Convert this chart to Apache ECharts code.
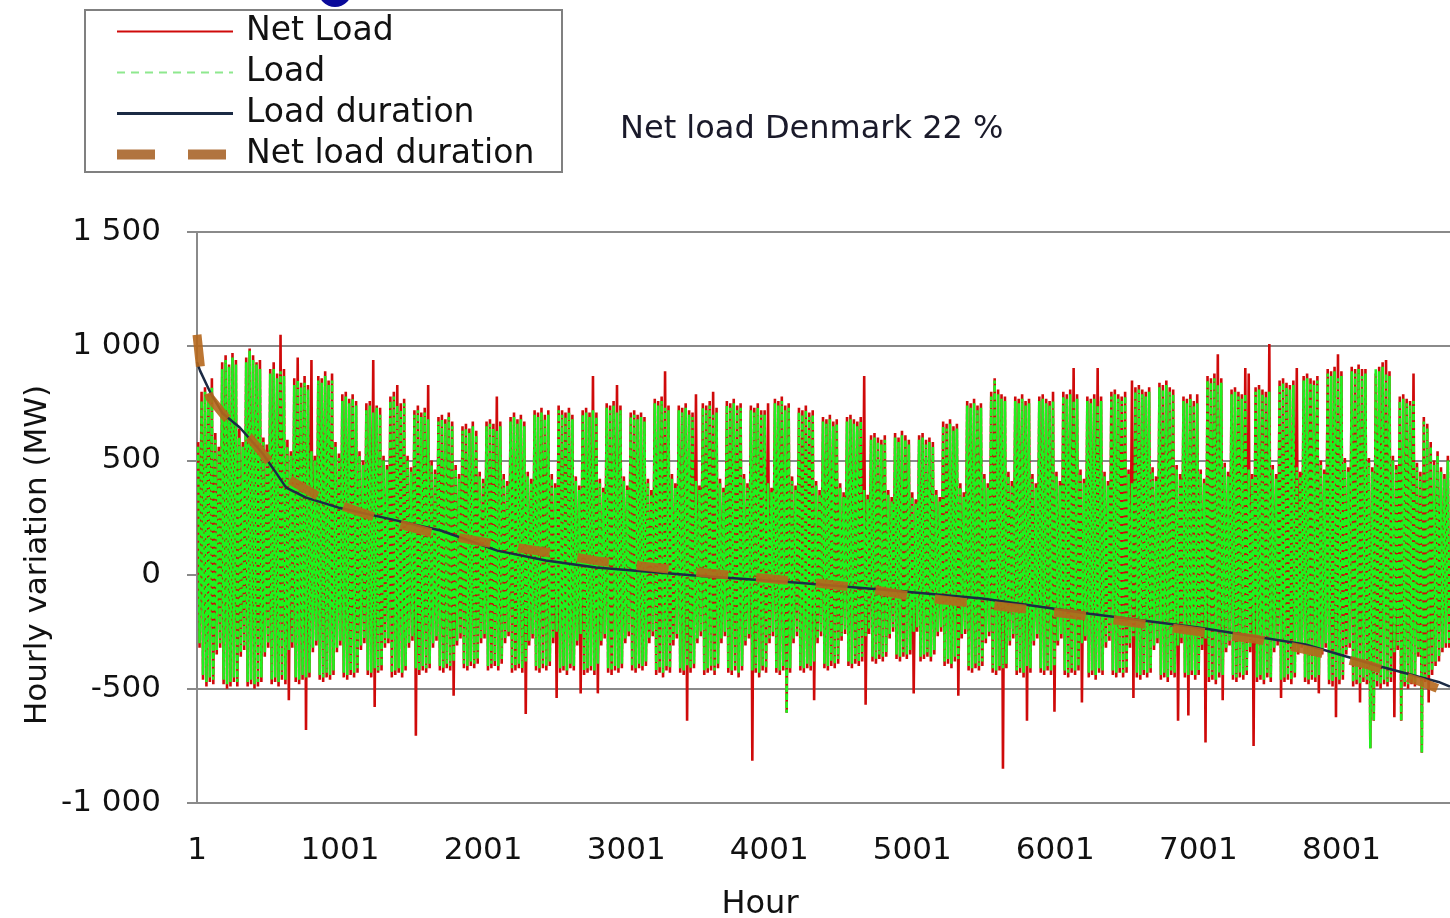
<!DOCTYPE html>
<html>
<head>
<meta charset="utf-8">
<script src="https://cdn.jsdelivr.net/npm/echarts@6/dist/echarts.min.js"></script>
<style>
  html, body { margin: 0; padding: 0; background: #ffffff; }
  #chart { width: 1450px; height: 918px; }
</style>
</head>
<body>
<div id="chart"></div>
<script>
// Hourly variation of load and net load, Denmark (MW), one year of hours.
// Daily morning peak and evening trough of each series, one value per day (365 days, one row per week).

const LOAD_PEAK = [
  560, 760, 800, 780, 820, 590, 540,
  900, 940, 910, 950, 920, 600, 560,
  930, 980, 940, 920, 900, 580, 540,
  880, 900, 860, 890, 870, 560, 520,
  830, 850, 820, 840, 810, 540, 500,
  850, 840, 870, 830, 850, 560, 510,
  760, 780, 750, 770, 740, 520, 480,
  720, 740, 710, 730, 700, 500, 460,
  760, 780, 740, 720, 750, 500, 450,
  700, 720, 690, 710, 680, 480, 440,
  670, 680, 660, 690, 650, 460, 420,
  630, 640, 620, 650, 610, 430, 400,
  650, 660, 640, 630, 650, 420, 390,
  670, 690, 660, 680, 650, 430, 400,
  700, 690, 710, 680, 700, 420, 380,
  720, 700, 690, 710, 680, 410, 370,
  700, 710, 690, 720, 690, 400, 360,
  730, 720, 740, 710, 720, 410, 370,
  690, 700, 680, 690, 670, 400, 350,
  750, 740, 760, 730, 720, 420, 380,
  720, 710, 730, 700, 690, 410, 370,
  730, 720, 740, 700, 710, 400, 360,
  740, 730, 750, 720, 730, 420, 380,
  720, 710, 730, 700, 700, 400, 360,
  750, 740, 760, 720, 730, 410, 370,
  710, 700, 720, 690, 700, 390, 350,
  670, 660, 680, 650, 660, 380, 340,
  670, 680, 660, 650, 670, 370, 330,
  590, 600, 580, 570, 590, 350, 320,
  600, 580, 610, 590, 570, 340, 310,
  590, 600, 570, 580, 560, 350, 320,
  650, 640, 660, 630, 640, 380, 340,
  740, 730, 750, 720, 730, 420, 380,
  780, 850, 790, 770, 760, 430, 390,
  760, 750, 770, 740, 750, 420, 380,
  760, 770, 750, 740, 760, 430, 390,
  780, 770, 790, 760, 770, 440, 400,
  760, 750, 770, 740, 760, 430, 390,
  780, 790, 770, 760, 780, 440, 400,
  800, 810, 790, 780, 800, 450, 410,
  820, 810, 830, 800, 790, 460, 420,
  760, 750, 770, 740, 750, 440, 400,
  850, 840, 860, 830, 840, 470, 430,
  790, 800, 780, 770, 790, 460, 420,
  800, 810, 790, 780, 800, 460, 420,
  830, 840, 820, 810, 830, 470, 430,
  850, 860, 840, 830, 850, 480, 440,
  880, 870, 890, 860, 870, 490, 450,
  890, 880, 900, 870, 880, 490, 450,
  900, 890, 910, 880, 870, 500, 460,
  760, 770, 750, 740, 760, 470, 430,
  670, 640, 560, 480, 520, 450, 420,
  500
];

const LOAD_TROUGH = [
  -300, -440, -470, -450, -460, -330, -300,
  -460, -480, -470, -450, -470, -340, -310,
  -470, -460, -480, -470, -450, -340, -300,
  -460, -450, -470, -440, -460, -330, -300,
  -450, -460, -440, -450, -430, -320, -290,
  -440, -450, -430, -440, -420, -320, -290,
  -430, -440, -420, -430, -410, -310, -280,
  -420, -430, -410, -420, -400, -300, -280,
  -430, -420, -410, -430, -400, -300, -270,
  -410, -420, -400, -410, -390, -300, -270,
  -400, -410, -390, -400, -380, -290, -260,
  -390, -400, -380, -390, -370, -280, -260,
  -400, -390, -380, -400, -370, -280, -250,
  -410, -400, -390, -410, -380, -290, -260,
  -400, -410, -390, -400, -380, -280, -250,
  -410, -400, -420, -390, -400, -290, -260,
  -420, -410, -400, -420, -390, -290, -260,
  -410, -420, -400, -410, -390, -280, -250,
  -400, -410, -390, -400, -380, -280, -250,
  -420, -410, -430, -400, -410, -290, -260,
  -410, -420, -400, -410, -390, -280, -250,
  -420, -410, -400, -420, -390, -280, -250,
  -410, -420, -400, -430, -400, -290, -260,
  -420, -410, -430, -400, -410, -280, -250,
  -410, -420, -400, -605, -410, -280, -250,
  -400, -410, -390, -400, -380, -280, -250,
  -390, -400, -380, -390, -370, -270, -240,
  -380, -390, -370, -380, -360, -270, -240,
  -360, -370, -350, -360, -340, -260, -230,
  -350, -360, -340, -350, -330, -250, -230,
  -360, -350, -340, -360, -330, -250, -230,
  -380, -370, -390, -360, -370, -260, -240,
  -400, -410, -390, -400, -380, -280, -250,
  -410, -420, -400, -410, -390, -290, -260,
  -420, -410, -430, -400, -410, -290, -260,
  -410, -420, -400, -420, -400, -290, -260,
  -420, -430, -410, -420, -400, -300, -270,
  -430, -420, -440, -410, -420, -300, -270,
  -420, -430, -410, -430, -410, -300, -270,
  -430, -440, -420, -430, -410, -310, -280,
  -440, -430, -450, -420, -430, -310, -280,
  -430, -440, -420, -440, -420, -310, -280,
  -450, -440, -460, -430, -440, -320, -290,
  -440, -450, -430, -440, -420, -320, -290,
  -450, -440, -460, -430, -450, -320, -290,
  -460, -450, -440, -460, -430, -330, -300,
  -450, -460, -440, -450, -440, -330, -300,
  -460, -470, -450, -460, -440, -330, -300,
  -470, -460, -480, -450, -460, -760, -640,
  -470, -480, -460, -470, -450, -340, -310,
  -640, -470, -480, -460, -470, -340, -780,
  -450, -440, -420, -380, -360, -320, -300,
  -300
];

const NET_PEAK = [
  580, 800, 820, 790, 860, 620, 560,
  930, 960, 920, 970, 940, 640, 580,
  950, 990, 960, 930, 940, 600, 570,
  900, 930, 880, 1050, 900, 590, 540,
  860, 950, 840, 870, 830, 940, 520,
  870, 860, 890, 850, 880, 580, 530,
  790, 800, 770, 790, 760, 540, 500,
  750, 760, 940, 740, 730, 520, 480,
  780, 800, 830, 750, 770, 520, 470,
  720, 740, 710, 730, 830, 500, 460,
  690, 700, 680, 710, 670, 480, 440,
  650, 660, 640, 670, 630, 450, 420,
  670, 680, 660, 780, 670, 440, 410,
  690, 710, 680, 700, 670, 450, 420,
  720, 710, 730, 700, 720, 440, 400,
  740, 720, 710, 730, 700, 430, 390,
  720, 730, 710, 870, 710, 420, 380,
  750, 740, 760, 830, 740, 430, 390,
  710, 720, 700, 710, 690, 420, 370,
  770, 760, 780, 890, 740, 440, 400,
  740, 730, 750, 720, 710, 790, 390,
  750, 740, 760, 800, 730, 420, 380,
  760, 750, 770, 740, 750, 440, 400,
  740, 730, 750, 720, 720, 750, 380,
  770, 760, 780, 740, 750, 430, 390,
  730, 720, 740, 710, 720, 410, 370,
  690, 680, 700, 670, 680, 400, 360,
  690, 700, 680, 670, 690, 870, 350,
  610, 620, 600, 590, 610, 370, 340,
  620, 600, 630, 610, 590, 360, 330,
  610, 620, 590, 600, 580, 370, 340,
  670, 660, 680, 650, 660, 400, 360,
  760, 750, 770, 740, 750, 440, 400,
  800, 860, 810, 790, 780, 450, 410,
  780, 770, 790, 760, 770, 440, 400,
  780, 790, 770, 760, 800, 450, 410,
  800, 790, 810, 905, 790, 460, 420,
  780, 770, 790, 905, 780, 450, 410,
  800, 810, 790, 780, 800, 460, 850,
  820, 830, 810, 800, 820, 470, 430,
  840, 830, 850, 820, 810, 480, 440,
  780, 770, 790, 760, 790, 460, 420,
  870, 860, 880, 965, 860, 490, 450,
  810, 820, 800, 790, 905, 880, 440,
  820, 830, 810, 800, 1010, 480, 440,
  850, 860, 840, 830, 850, 905, 450,
  870, 880, 860, 850, 870, 500, 460,
  900, 890, 910, 965, 890, 510, 470,
  910, 900, 920, 900, 900, 510, 470,
  880, 910, 930, 940, 890, 520, 480,
  780, 790, 770, 760, 880, 490, 450,
  690, 660, 580, 500, 540, 470, 440,
  520
];

const NET_TROUGH = [
  -320, -460, -490, -470, -480, -350, -320,
  -480, -500, -490, -470, -490, -360, -330,
  -490, -480, -500, -490, -470, -360, -320,
  -480, -470, -490, -460, -480, -550, -320,
  -470, -480, -460, -680, -450, -340, -310,
  -460, -470, -450, -460, -440, -340, -310,
  -450, -460, -440, -450, -430, -330, -300,
  -440, -450, -580, -430, -420, -320, -300,
  -450, -440, -430, -450, -420, -320, -290,
  -705, -440, -420, -430, -410, -320, -290,
  -420, -430, -410, -420, -530, -310, -280,
  -410, -420, -400, -410, -390, -300, -280,
  -420, -410, -400, -420, -390, -300, -270,
  -430, -420, -410, -430, -610, -310, -280,
  -420, -430, -410, -420, -400, -300, -540,
  -430, -420, -440, -410, -420, -310, -520,
  -440, -430, -420, -440, -520, -310, -280,
  -430, -440, -420, -430, -410, -300, -270,
  -420, -430, -410, -420, -400, -300, -270,
  -440, -430, -450, -420, -430, -310, -280,
  -430, -440, -640, -430, -410, -300, -270,
  -440, -430, -420, -440, -410, -300, -270,
  -430, -440, -420, -450, -420, -310, -280,
  -815, -430, -450, -420, -430, -300, -270,
  -430, -440, -420, -605, -430, -300, -270,
  -420, -430, -410, -420, -550, -300, -270,
  -410, -420, -400, -410, -390, -290, -260,
  -400, -410, -390, -400, -380, -570, -260,
  -380, -390, -370, -380, -360, -280, -250,
  -370, -380, -360, -370, -350, -520, -250,
  -380, -370, -360, -380, -350, -270, -250,
  -400, -390, -410, -380, -530, -280, -260,
  -420, -430, -410, -420, -400, -300, -270,
  -430, -440, -420, -850, -410, -310, -280,
  -440, -430, -450, -640, -430, -310, -280,
  -430, -440, -420, -440, -600, -310, -280,
  -440, -450, -430, -440, -420, -560, -290,
  -450, -440, -460, -430, -440, -320, -290,
  -440, -450, -430, -450, -430, -320, -540,
  -450, -460, -440, -450, -430, -330, -300,
  -460, -450, -470, -440, -450, -640, -300,
  -450, -617, -440, -460, -440, -330, -735,
  -470, -460, -480, -450, -550, -340, -310,
  -460, -470, -450, -460, -440, -340, -750,
  -470, -460, -480, -450, -470, -340, -310,
  -540, -470, -460, -480, -450, -350, -320,
  -470, -480, -460, -470, -520, -350, -320,
  -480, -490, -625, -480, -460, -350, -320,
  -490, -480, -560, -470, -480, -760, -640,
  -490, -500, -480, -490, -470, -625, -330,
  -640, -490, -500, -480, -490, -360, -780,
  -470, -560, -440, -400, -380, -340, -320,
  -320
];

// Duration curves: hour rank and hourly variation (MW), sorted high to low.
const LOAD_DURATION_HOURS = [1, 22, 100, 181, 300, 460, 560, 624, 763, 991, 1338, 1705, 2100, 2440, 2790, 3480, 4180, 4800, 5490, 6240, 7000, 7750, 8260, 8680, 8760];
const LOAD_DURATION_MW    = [930, 893, 790, 705, 644, 530, 440, 381, 337, 293, 245, 193, 105, 62, 31, -4, -35, -66, -105, -171, -232, -306, -400, -470, -490];

const NET_DURATION_HOURS = [1, 30, 91, 200, 368, 576, 874, 1248, 1635, 2100, 2500, 2800, 3200, 3500, 3900, 4300, 4700, 5000, 5500, 5900, 6300, 6750, 7200, 7400, 7800, 8200, 8560, 8760];
const NET_DURATION_MW    = [1050, 880, 775, 690, 600, 442, 333, 250, 184, 132, 92, 60, 31, 10, -12, -35, -62, -96, -131, -158, -188, -228, -267, -282, -335, -398, -470, -520];

// Axis ticks and labels
const X_TICKS  = [1, 601, 1201, 1801, 2401, 3001, 3601, 4201, 4801, 5401, 6001, 6601, 7201, 7801, 8401];
const X_LABELS = [1, 1001, 2001, 3001, 4001, 5001, 6001, 7001, 8001];
const Y_MIN = -1000, Y_MAX = 1500, Y_STEP = 500;

const SERIES_NAMES = ['Net Load', 'Load', 'Load duration', 'Net load duration'];
const TITLE_TEXT = 'Net load Denmark 22 %';
const Y_NAME = 'Hourly variation (MW)';
const X_NAME = 'Hour';

// Position within each day of the morning peak and the evening trough.
const PEAK_HOUR = 9;
const TROUGH_HOUR = 19;

function dailyPoints(peaks, troughs) {
  const pts = [];
  for (let d = 0; d < peaks.length; d++) {
    pts.push([d * 24 + PEAK_HOUR, peaks[d]]);
    pts.push([d * 24 + TROUGH_HOUR, troughs[d]]);
  }
  return pts;
}
function zip(xs, ys) { return xs.map((x, i) => [x, ys[i]]); }

const FONT = 'DejaVu Sans';
const AXIS_GREY = '#8a8a8a';

const COLORS = {
  net: '#cf0a0a',
  load: '#1ef21e',
  loadDur: '#1b2a44',
  netDur: '#b5671c'
};

const chart = echarts.init(document.getElementById('chart'), null, { renderer: 'canvas' });

chart.setOption({
  animation: false,
  backgroundColor: '#ffffff',
  title: {
    text: TITLE_TEXT,
    left: 620,
    top: 114,
    padding: 0,
    textStyle: { fontFamily: FONT, fontSize: 32, fontWeight: 'normal', color: '#1a1a2a' }
  },
  legend: {
    orient: 'vertical',
    left: 112,
    top: 15,
    padding: 0,
    itemWidth: 116,
    itemHeight: 14,
    itemGap: 8,
    selectedMode: false,
    itemStyle: { opacity: 0 },
    textStyle: { fontFamily: FONT, fontSize: 33, color: '#111', lineHeight: 32, padding: [0, 0, 0, 8] },
    data: [
      { name: SERIES_NAMES[0], lineStyle: { color: COLORS.net, width: 2, type: 'solid' } },
      { name: SERIES_NAMES[1], lineStyle: { color: '#8ee88e', width: 2, type: [8, 6] } },
      { name: SERIES_NAMES[2], lineStyle: { color: COLORS.loadDur, width: 3, type: 'solid' } },
      { name: SERIES_NAMES[3], lineStyle: { color: '#a8652a', width: 10, type: [38, 33] } }
    ]
  },
  graphic: [
    { type: 'rect', shape: { x: 85, y: 10, width: 477, height: 162 },
      style: { fill: 'none', stroke: '#808080', lineWidth: 2 }, z: 100 },
    { type: 'circle', shape: { cx: 335, cy: -10, r: 17 }, style: { fill: '#0a0a9a' } },
    { type: 'text', x: 38, y: 555, rotation: Math.PI / 2,
      style: { text: Y_NAME, fontFamily: FONT, fontSize: 31, fill: '#111', align: 'center', verticalAlign: 'middle' } },
    { type: 'text', x: 760, y: 905,
      style: { text: X_NAME, fontFamily: FONT, fontSize: 32, fill: '#111', align: 'center', verticalAlign: 'middle' } }
  ],
  grid: { left: 197, top: 232, width: 1265, height: 571, containLabel: false },
  xAxis: {
    type: 'value',
    min: 1,
    max: 8760,
    axisLine: { show: true, lineStyle: { color: AXIS_GREY, width: 2 } },
    axisTick: { show: true, customValues: X_TICKS, length: 10, lineStyle: { color: AXIS_GREY, width: 2 } },
    axisLabel: {
      customValues: X_LABELS, margin: 32, fontFamily: FONT, fontSize: 31, color: '#111',
      formatter: v => String(v)
    },
    splitLine: { show: false }
  },
  yAxis: {
    type: 'value',
    min: Y_MIN,
    max: Y_MAX,
    interval: Y_STEP,
    axisLine: { show: true, lineStyle: { color: AXIS_GREY, width: 2 } },
    axisTick: { show: true, length: 10, lineStyle: { color: AXIS_GREY, width: 2 } },
    axisLabel: {
      margin: 36, fontFamily: FONT, fontSize: 31, color: '#111',
      formatter: v => String(v).replace(/\B(?=(\d{3})+(?!\d))/g, ' ')
    },
    splitLine: { show: true, lineStyle: { color: AXIS_GREY, width: 2 } }
  },
  series: [
    {
      name: SERIES_NAMES[0], type: 'line', symbol: 'none',
      data: dailyPoints(NET_PEAK, NET_TROUGH),
      lineStyle: { color: COLORS.net, width: 2.6 },
      itemStyle: { color: COLORS.net },
      z: 2
    },
    {
      name: SERIES_NAMES[1], type: 'line', symbol: 'none',
      data: dailyPoints(LOAD_PEAK, LOAD_TROUGH),
      lineStyle: { color: COLORS.load, width: 2.6, type: [6, 2] },
      itemStyle: { color: COLORS.load },
      z: 3
    },
    {
      name: SERIES_NAMES[2], type: 'line', symbol: 'none',
      data: zip(LOAD_DURATION_HOURS, LOAD_DURATION_MW),
      lineStyle: { color: COLORS.loadDur, width: 2.5 },
      itemStyle: { color: COLORS.loadDur },
      z: 4
    },
    {
      name: SERIES_NAMES[3], type: 'line', symbol: 'none',
      data: zip(NET_DURATION_HOURS, NET_DURATION_MW),
      lineStyle: { color: COLORS.netDur, width: 9, type: [32, 28], opacity: 0.9 },
      itemStyle: { color: COLORS.netDur },
      z: 5
    }
  ]
});
</script>
</body>
</html>
